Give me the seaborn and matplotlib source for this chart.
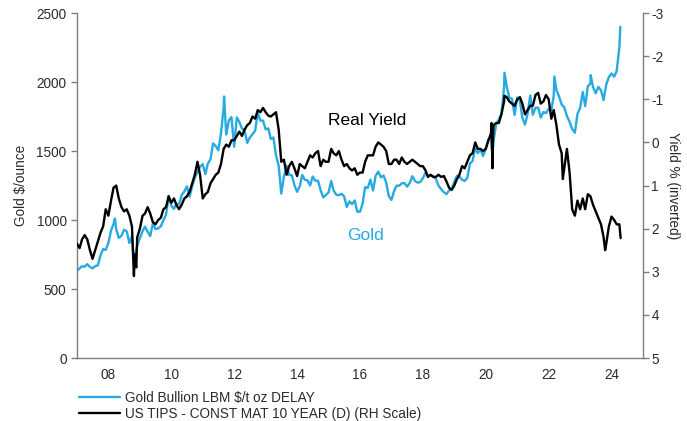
import numpy as np
import pandas as pd
import matplotlib
matplotlib.use("Agg")
import matplotlib.pyplot as plt
import matplotlib.dates as mdates
import seaborn as sns

# ---------------- data (month-start readings) ----------------
gold_monthly = [
    632, 650, 665, 662, 680, 660, 650, 665, 672, 743, 790, 783,          # 2007
    834, 923, 971, 933, 871, 885, 930, 918, 833, 884, 730, 814,          # 2008
    869, 919, 952, 916, 884, 975, 934, 939, 955, 996, 1040, 1175,        # 2009
    1104, 1081, 1116, 1113, 1180, 1207, 1244, 1169, 1246, 1307, 1346, 1386,  # 2010
    1405, 1333, 1409, 1439, 1556, 1536, 1505, 1628, 1813, 1620, 1722, 1746,  # 2011
    1531, 1744, 1711, 1662, 1651, 1558, 1598, 1622, 1648, 1776, 1720, 1721,  # 2012
    1657, 1664, 1588, 1598, 1469, 1394, 1192, 1314, 1394, 1327, 1324, 1253,  # 2013
    1205, 1244, 1326, 1291, 1288, 1250, 1315, 1285, 1285, 1216, 1164, 1182,  # 2014
    1199, 1283, 1213, 1183, 1180, 1190, 1172, 1095, 1135, 1115, 1142, 1061,  # 2015
    1060, 1118, 1238, 1233, 1293, 1214, 1320, 1351, 1309, 1322, 1273, 1173,  # 2016
    1146, 1211, 1249, 1249, 1266, 1268, 1242, 1268, 1317, 1283, 1271, 1275,  # 2017
    1303, 1345, 1317, 1325, 1315, 1298, 1250, 1224, 1202, 1187, 1215, 1220,  # 2018
    1279, 1321, 1316, 1292, 1283, 1305, 1409, 1427, 1520, 1485, 1511, 1464,  # 2019
    1515, 1582, 1585, 1578, 1694, 1730, 1768, 1962, 1968, 1886, 1879, 1762,  # 2020
    1888, 1863, 1743, 1691, 1768, 1903, 1763, 1814, 1814, 1743, 1783, 1774,  # 2021
    1806, 1797, 1900, 1942, 1896, 1837, 1817, 1754, 1711, 1660, 1633, 1768,  # 2022
    1812, 1928, 1826, 1969, 1990, 1962, 1919, 1965, 1940, 1870, 1983, 2036,  # 2023
    2062, 2039, 2080, 2250,                                                 # 2024
]
gold_extra_dates = ["2008-03-17", "2008-10-24", "2011-09-06", "2020-03-19",
                    "2020-08-06", "2022-03-08", "2023-05-04", "2024-04-12"]
gold_extra_vals = [1011, 712, 1895, 1475, 2067, 2040, 2050, 2400]

yield_monthly = [
    2.35, 2.45, 2.25, 2.15, 2.25, 2.50, 2.70, 2.50, 2.30, 2.10, 1.95, 1.55,   # 2007
    1.70, 1.35, 1.05, 1.00, 1.30, 1.50, 1.60, 1.55, 1.70, 1.95, 2.60, 2.20,   # 2008
    2.00, 1.70, 1.65, 1.50, 1.65, 1.85, 1.90, 1.80, 1.75, 1.55, 1.50, 1.25,   # 2009
    1.40, 1.30, 1.45, 1.55, 1.45, 1.30, 1.25, 1.15, 0.95, 0.75, 0.45, 0.75,   # 2010
    1.30, 1.20, 1.15, 0.95, 0.85, 0.75, 0.70, 0.50, 0.15, 0.05, 0.10, -0.05,  # 2011
    -0.05, -0.15, -0.25, -0.15, -0.30, -0.40, -0.45, -0.60, -0.55, -0.75, -0.70, -0.80,  # 2012
    -0.70, -0.62, -0.60, -0.65, -0.70, -0.30, 0.45, 0.40, 0.75, 0.55, 0.45, 0.60,  # 2013
    0.78, 0.50, 0.55, 0.60, 0.45, 0.30, 0.35, 0.25, 0.20, 0.55, 0.40, 0.45,   # 2014
    0.45, 0.15, 0.25, 0.30, 0.20, 0.40, 0.55, 0.50, 0.60, 0.65, 0.60, 0.75,   # 2015
    0.70, 0.70, 0.45, 0.30, 0.30, 0.30, 0.10, 0.00, 0.05, 0.10, 0.20, 0.50,   # 2016
    0.50, 0.40, 0.40, 0.50, 0.35, 0.45, 0.50, 0.45, 0.40, 0.45, 0.50, 0.55,   # 2017
    0.55, 0.65, 0.80, 0.75, 0.80, 0.80, 0.75, 0.80, 0.78, 0.90, 1.05, 1.10,   # 2018
    1.00, 0.85, 0.75, 0.55, 0.60, 0.45, 0.30, 0.25, 0.00, 0.15, 0.15, 0.20,   # 2019
    0.15, -0.05, -0.20, -0.40, -0.45, -0.45, -0.65, -0.95, -1.05, -0.95, -0.90, -0.85,  # 2020
    -1.00, -1.05, -0.90, -0.65, -0.75, -0.85, -0.85, -1.10, -1.15, -0.90, -0.95, -1.10,  # 2021
    -1.00, -0.55, -0.75, -0.40, 0.05, 0.25, 0.60, 0.15, 0.70, 1.55, 1.70, 1.35,  # 2022
    1.55, 1.30, 1.55, 1.20, 1.25, 1.45, 1.60, 1.75, 1.90, 2.20, 2.35, 1.95,   # 2023
    1.72, 1.80, 1.90, 1.90,                                                   # 2024
]
yield_extra_dates = ["2008-10-24", "2008-11-20", "2020-03-09", "2020-03-19",
                     "2020-03-27", "2020-08-06", "2022-06-14", "2023-10-19", "2024-04-16"]
yield_extra_vals = [3.10, 2.90, -0.45, 0.60, -0.25, -1.08, 0.85, 2.50, 2.22]

gold_label = "Gold Bullion LBM $/t oz DELAY"
yield_label = "US TIPS - CONST MAT 10 YEAR (D) (RH Scale)"
left_ticks = [0, 500, 1000, 1500, 2000, 2500]
right_ticks = [-3, -2, -1, 0, 1, 2, 3, 4, 5]
year_ticks = [2008, 2010, 2012, 2014, 2016, 2018, 2020, 2022, 2024]

BLUE = "#27aae1"
GREY = "#7f7f7f"
TXT = "#2b2b2b"

def build(monthly, extra_d, extra_v):
    d = pd.DataFrame({"date": pd.date_range("2007-01-01", periods=len(monthly), freq="MS"),
                      "value": monthly})
    e = pd.DataFrame({"date": pd.to_datetime(extra_d), "value": extra_v})
    return pd.concat([d, e]).sort_values("date").reset_index(drop=True)

gold_df = build(gold_monthly, gold_extra_dates, gold_extra_vals)
yield_df = build(yield_monthly, yield_extra_dates, yield_extra_vals)

sns.set_style("white")
plt.rcParams["font.family"] = ["Liberation Sans", "DejaVu Sans"]
plt.rcParams["axes.unicode_minus"] = False

fig = plt.figure(figsize=(6.87, 4.21), dpi=100)
ax = fig.add_axes([0.112, 0.1496, 0.824, 0.8194])
ax2 = ax.twinx()

sns.lineplot(data=gold_df, x="date", y="value", ax=ax, color=BLUE, lw=1.7, label=gold_label, legend=False)
sns.lineplot(data=yield_df, x="date", y="value", ax=ax2, color="black", lw=1.7, label=yield_label, legend=False)

ax.set_xlim(pd.Timestamp("2007-01-01"), pd.Timestamp("2025-01-01"))
ax.set_ylim(0, 2500)
ax2.set_ylim(5, -3)
ax.set_yticks(left_ticks)
ax2.set_yticks(right_ticks)
ax.set_xticks([pd.Timestamp(f"{y}-01-01") for y in year_ticks])
ax.xaxis.set_major_formatter(mdates.DateFormatter("%y"))

for a in (ax, ax2):
    for s in a.spines.values():
        s.set_color(GREY)
        s.set_linewidth(1.0)
    a.spines["top"].set_visible(False)
    a.tick_params(colors=TXT, labelsize=9.8, length=4, width=1.0, color=GREY)
ax.spines["right"].set_visible(False)
ax2.spines["left"].set_visible(False)
ax2.spines["bottom"].set_visible(False)
ax.tick_params(axis="both", direction="out")
ax2.tick_params(axis="y", direction="out", pad=2)

ax.set_xlabel("")
ax.set_ylabel("Gold $/ounce", fontsize=9.8, color=TXT, labelpad=6)
ax2.set_ylabel("Yield % (inverted)", fontsize=9.8, color=TXT, rotation=270, labelpad=12)

ax.text(pd.Timestamp("2016-03-20"), 1720, "Real Yield", fontsize=12.5, color="black",
        ha="center", va="center")
ax.text(pd.Timestamp("2016-03-10"), 890, "Gold", fontsize=12.5, color=BLUE,
        ha="center", va="center")

h1 = ax.get_lines()[0]
h2 = ax2.get_lines()[0]
fig.legend([h1, h2], [gold_label, yield_label], loc="upper left",
           bbox_to_anchor=(0.105, 0.087), frameon=False, fontsize=9.8,
           handlelength=3.0, handletextpad=0.4, labelspacing=0.1, borderpad=0.0,
           labelcolor=TXT)

fig.savefig("out.png", dpi=100)
